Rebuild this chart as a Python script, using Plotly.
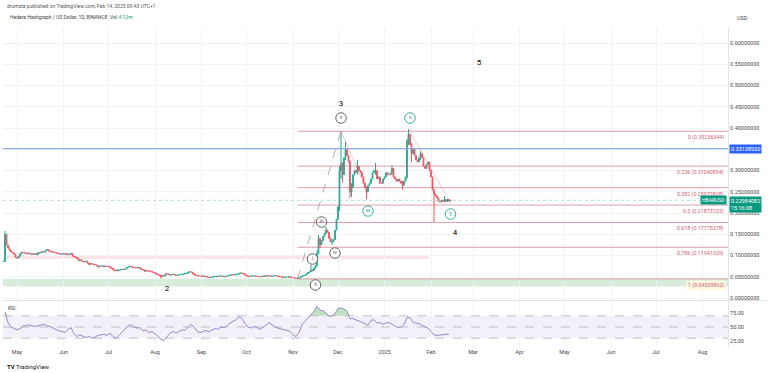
import numpy as np
import pandas as pd
import plotly.graph_objects as go

# ---------------- data ----------------
start_date = "2024-04-22"
end_date = "2025-02-14"

close_apr = [0.086, 0.150, 0.125, 0.118, 0.112, 0.108, 0.106, 0.103, 0.096]
close_may = [0.094, 0.098, 0.104, 0.108, 0.107, 0.106, 0.104, 0.106, 0.105, 0.103,
             0.104, 0.103, 0.104, 0.102, 0.107, 0.106, 0.108, 0.109, 0.108, 0.112,
             0.114, 0.111, 0.109, 0.109, 0.108, 0.107, 0.106, 0.105, 0.104, 0.103, 0.104]
close_jun = [0.104, 0.103, 0.104, 0.102, 0.103, 0.105, 0.099, 0.097, 0.096, 0.093,
             0.088, 0.090, 0.087, 0.085, 0.086, 0.087, 0.082, 0.079, 0.081, 0.080,
             0.079, 0.078, 0.076, 0.073, 0.075, 0.075, 0.076, 0.074, 0.074, 0.075]
close_jul = [0.074, 0.072, 0.070, 0.066, 0.064, 0.066, 0.064, 0.066, 0.067, 0.068,
             0.067, 0.068, 0.071, 0.073, 0.075, 0.074, 0.072, 0.071, 0.072, 0.071,
             0.072, 0.069, 0.067, 0.066, 0.063, 0.065, 0.064, 0.063, 0.063, 0.061, 0.060]
close_aug = [0.058, 0.056, 0.055, 0.053, 0.050, 0.053, 0.052, 0.057, 0.056, 0.056,
             0.054, 0.055, 0.056, 0.054, 0.053, 0.054, 0.055, 0.055, 0.056, 0.056,
             0.058, 0.058, 0.061, 0.062, 0.061, 0.058, 0.055, 0.053, 0.053, 0.052, 0.052]
close_sep = [0.051, 0.052, 0.051, 0.050, 0.049, 0.048, 0.049, 0.049, 0.051, 0.051,
             0.050, 0.051, 0.052, 0.052, 0.051, 0.050, 0.051, 0.052, 0.053, 0.054,
             0.055, 0.054, 0.055, 0.056, 0.056, 0.058, 0.059, 0.058, 0.057, 0.054]
close_oct = [0.052, 0.051, 0.051, 0.052, 0.052, 0.052, 0.051, 0.051, 0.050, 0.050,
             0.051, 0.052, 0.051, 0.053, 0.052, 0.052, 0.051, 0.052, 0.052, 0.053,
             0.052, 0.051, 0.050, 0.050, 0.048, 0.049, 0.049, 0.049, 0.050, 0.049, 0.048]
close_nov = [0.048, 0.047, 0.046, 0.0465, 0.047, 0.050, 0.052, 0.053, 0.054, 0.057,
             0.060, 0.062, 0.066, 0.064, 0.070, 0.076, 0.105, 0.140, 0.125, 0.135,
             0.145, 0.152, 0.160, 0.155, 0.140, 0.132, 0.133, 0.137, 0.160, 0.185]
close_dec = [0.215, 0.300, 0.315, 0.290, 0.330, 0.350, 0.335, 0.320, 0.250, 0.260,
             0.290, 0.300, 0.295, 0.310, 0.300, 0.295, 0.285, 0.270, 0.260, 0.250,
             0.265, 0.270, 0.280, 0.295, 0.300, 0.300, 0.280, 0.285, 0.270, 0.270, 0.280]
close_jan = [0.285, 0.295, 0.290, 0.290, 0.295, 0.305, 0.285, 0.280, 0.275, 0.280,
             0.275, 0.270, 0.265, 0.275, 0.285, 0.370, 0.385, 0.360, 0.340, 0.350,
             0.335, 0.325, 0.320, 0.330, 0.340, 0.330, 0.310, 0.305, 0.315, 0.320, 0.300]
close_feb = [0.285, 0.255, 0.245, 0.240, 0.235, 0.228, 0.226, 0.230, 0.228, 0.232,
             0.227, 0.232, 0.228, 0.22984082]

# notable wicks: date -> (high, low)
wicks = {
    "2024-04-23": (0.158, 0.085), "2024-08-05": (0.055, 0.046),
    "2024-11-04": (0.048, 0.04509862), "2024-11-13": (0.078, 0.062),
    "2024-11-17": (0.112, 0.075), "2024-11-18": (0.148, 0.103),
    "2024-11-19": (0.142, 0.118), "2024-11-23": (0.168, 0.150),
    "2024-11-27": (0.140, 0.125), "2024-12-02": (0.310, 0.205),
    "2024-12-03": (0.39236344, 0.280), "2024-12-04": (0.320, 0.272),
    "2024-12-06": (0.368, 0.325), "2024-12-09": (0.325, 0.235),
    "2024-12-10": (0.270, 0.238), "2024-12-14": (0.325, 0.290),
    "2024-12-20": (0.262, 0.232), "2024-12-26": (0.318, 0.290),
    "2025-01-06": (0.312, 0.290), "2025-01-13": (0.275, 0.255),
    "2025-01-16": (0.375, 0.280), "2025-01-17": (0.3975, 0.360),
    "2025-01-19": (0.365, 0.320), "2025-01-25": (0.345, 0.325),
    "2025-02-03": (0.255, 0.179), "2025-02-10": (0.240, 0.225),
}

# RSI(14) read every second day starting 2024-04-23
rsi_start = "2024-04-23"
rsi_vals = [77, 58, 50, 47, 45, 47, 52, 52, 54, 52, 51, 52, 53, 55, 52, 51, 48, 45, 43, 42,
            40, 46, 49, 38, 33, 36, 33, 31, 33, 30, 32, 35, 36, 37, 35, 39, 33, 30, 35, 41,
            46, 52, 54, 50, 48, 49, 43, 45, 40, 42, 38, 33, 28, 26, 33, 39, 42, 39, 42, 45,
            44, 50, 55, 50, 42, 40, 42, 44, 41, 45, 47, 46, 50, 49, 52, 57, 60, 63, 68, 65,
            56, 50, 48, 51, 49, 46, 50, 53, 58, 54, 50, 48, 46, 45, 44, 42, 36, 33, 40, 54,
            60, 66, 72, 78, 87, 80, 79, 75, 69, 70, 74, 83, 84, 82, 78, 65, 65, 63, 61, 59,
            56, 53, 62, 63, 57, 58, 55, 57, 58, 55, 52, 49, 50, 54, 67, 67, 58, 57, 56, 53,
            51, 48, 42, 36, 35, 36, 36, 37, 37]

# fibonacci retracement anchors
fib_high = 0.39236344
fib_low = 0.04509862
fib_start = "2024-11-04"
fib_ratios = [0, 0.236, 0.382, 0.5, 0.618, 0.786, 1]
fib_names = ["0", "0.236", "0.382", "0.5", "0.618", "0.786", "1"]

blue_level = 0.35138930
last_price = 0.22984082
green_zone = (0.027, 0.04509862)
pink_zone = (0.092, 0.099)
pink_zone_end = "2025-01-31"

wave_text = ["5", "3", "4", "2"]
wave_dates = ["2025-03-05", "2024-12-03", "2025-02-17", "2024-08-09"]
wave_prices = [0.553, 0.456, 0.153, 0.021]

circ_text = ["v", "x", "w", "y", "iii", "iv", "i", "ii"]
circ_dates = ["2024-12-03", "2025-01-18", "2024-12-21", "2025-02-14",
              "2024-11-20", "2024-11-29", "2024-11-14", "2024-11-16"]
circ_prices = [0.4235, 0.4235, 0.2047, 0.1976, 0.1788, 0.1059, 0.0918, 0.0306]
circ_green = [False, True, True, True, False, False, False, False]

price_ticks = [0.0, 0.05, 0.10, 0.15, 0.20, 0.25, 0.30, 0.35, 0.40, 0.45, 0.50, 0.55, 0.60]
rsi_ticks = [25, 50, 75]
month_ticks = ["2024-05-01", "2024-06-01", "2024-07-01", "2024-08-01", "2024-09-01",
               "2024-10-01", "2024-11-01", "2024-12-01", "2025-01-01", "2025-02-01",
               "2025-03-01", "2025-04-01", "2025-05-01", "2025-06-01", "2025-07-01",
               "2025-08-01"]
month_labels = ["May", "Jun", "Jul", "Aug", "Sep", "Oct", "Nov", "Dec", "2025", "Feb",
                "Mar", "Apr", "May", "Jun", "Jul", "Aug"]

x_range = ["2024-04-21 16:00", "2025-08-18 00:00"]

# ---------------- build series ----------------
closes = (close_apr + close_may + close_jun + close_jul + close_aug + close_sep +
          close_oct + close_nov + close_dec + close_jan + close_feb)
dates = pd.date_range(start_date, end_date, freq="D")
opens = [closes[0]] + closes[:-1]
highs, lows = [], []
for d, o, c in zip(dates, opens, closes):
    k = d.strftime("%Y-%m-%d")
    hi, lo = max(o, c), min(o, c)
    if k in wicks:
        hi = max(hi, wicks[k][0])
        lo = min(lo, wicks[k][1])
    highs.append(hi)
    lows.append(lo)

rsi_dates = pd.date_range(rsi_start, periods=len(rsi_vals), freq="2D")

GREEN = "#22ab94"
RED = "#f7525f"
FONT = "Roboto"
TXT = "#4a4a4a"

fig = go.Figure()

fig.add_trace(go.Candlestick(
    x=dates, open=opens, high=highs, low=lows, close=closes,
    increasing=dict(line=dict(color=GREEN, width=1), fillcolor=GREEN),
    decreasing=dict(line=dict(color=RED, width=1), fillcolor=RED),
    whiskerwidth=0, xaxis="x", yaxis="y", showlegend=False, hoverinfo="skip"))

# dashed impulse line
fig.add_trace(go.Scatter(x=[fib_start, "2024-12-03"], y=[fib_low, fib_high], mode="lines",
                         line=dict(color="#9a9a9a", width=0.8, dash="dash"),
                         xaxis="x", yaxis="y", showlegend=False, hoverinfo="skip"))
# faint connector lines
fig.add_trace(go.Scatter(x=["2024-12-03", "2024-12-21"], y=[fib_high, 0.247], mode="lines",
                         line=dict(color="rgba(242,54,69,0.35)", width=0.8),
                         xaxis="x", yaxis="y", showlegend=False, hoverinfo="skip"))
fig.add_trace(go.Scatter(x=["2025-01-17", "2025-02-14"], y=[0.3975, 0.2235], mode="lines",
                         line=dict(color="rgba(242,54,69,0.35)", width=0.8),
                         xaxis="x", yaxis="y", showlegend=False, hoverinfo="skip"))

# circled wave labels
for green in (False, True):
    idx = [i for i, g in enumerate(circ_green) if g == green]
    col = GREEN if green else "#555555"
    fig.add_trace(go.Scatter(
        x=[circ_dates[i] for i in idx], y=[circ_prices[i] for i in idx],
        text=[circ_text[i] for i in idx], mode="markers+text", textposition="middle center",
        marker=dict(size=10.5, color="white", line=dict(color=col, width=0.9)),
        textfont=dict(size=5.5, color=col, family=FONT),
        xaxis="x", yaxis="y", showlegend=False, hoverinfo="skip"))

# plain wave labels
fig.add_trace(go.Scatter(x=wave_dates, y=wave_prices, text=wave_text, mode="text",
                         textfont=dict(size=8, color="#000000", family=FONT),
                         xaxis="x", yaxis="y", showlegend=False, hoverinfo="skip"))

# RSI
rsi_arr = np.array(rsi_vals, dtype=float)
fig.add_trace(go.Scatter(x=rsi_dates, y=[70] * len(rsi_vals), mode="lines",
                         line=dict(width=0, color="rgba(0,0,0,0)"),
                         xaxis="x2", yaxis="y2", showlegend=False, hoverinfo="skip"))
fig.add_trace(go.Scatter(x=rsi_dates, y=np.maximum(rsi_arr, 70), mode="lines", fill="tonexty",
                         fillcolor="rgba(76,175,80,0.35)", line=dict(width=0, color="rgba(0,0,0,0)"),
                         xaxis="x2", yaxis="y2", showlegend=False, hoverinfo="skip"))
fig.add_trace(go.Scatter(x=rsi_dates, y=rsi_arr, mode="lines",
                         line=dict(color="#8c7bc4", width=0.9),
                         xaxis="x2", yaxis="y2", showlegend=False, hoverinfo="skip"))

shapes = []
# zones
shapes.append(dict(type="rect", xref="paper", yref="y", x0=0, x1=1,
                   y0=green_zone[0], y1=green_zone[1], fillcolor="rgba(76,175,80,0.22)",
                   line=dict(width=0), layer="below"))
shapes.append(dict(type="rect", xref="x", yref="y", x0=x_range[0], x1=pink_zone_end,
                   y0=pink_zone[0], y1=pink_zone[1], fillcolor="rgba(242,54,69,0.13)",
                   line=dict(width=0), layer="below"))
# blue level
shapes.append(dict(type="line", xref="paper", yref="y", x0=0, x1=1, y0=blue_level, y1=blue_level,
                   line=dict(color="#8fb1d9", width=1.2)))
# last price dotted
shapes.append(dict(type="line", xref="paper", yref="y", x0=0, x1=1, y0=last_price, y1=last_price,
                   line=dict(color="rgba(8,153,129,0.45)", width=0.7, dash="dot")))
# fib lines
fib_levels = [fib_high - r * (fib_high - fib_low) for r in fib_ratios]
for lv in fib_levels:
    shapes.append(dict(type="line", xref="x", yref="y", x0=fib_start, x1=x_range[1], y0=lv, y1=lv,
                       line=dict(color="rgba(200,90,105,0.65)", width=0.9)))
# RSI band & lines
shapes.append(dict(type="rect", xref="paper", yref="y2", x0=0, x1=1, y0=30, y1=70,
                   fillcolor="rgba(126,87,194,0.09)", line=dict(width=0), layer="below"))
for lv in (70, 50, 30):
    shapes.append(dict(type="line", xref="paper", yref="y2", x0=0, x1=1, y0=lv, y1=lv,
                       line=dict(color="#a7a9b3", width=0.7, dash="dash")))
# pane separator
shapes.append(dict(type="line", xref="paper", yref="paper", x0=0, x1=1.055, y0=0.1458, y1=0.1458,
                   line=dict(color="#e0e3eb", width=1)))

annotations = []
for name, lv in zip(fib_names, fib_levels):
    annotations.append(dict(
        xref="paper", yref="y", x=1, y=lv, xanchor="right", yanchor="top", xshift=-2, yshift=-1,
        text=f"{name} ({lv:.8f})", showarrow=False,
        font=dict(size=5.3, color="#d0606f", family=FONT),
        bgcolor="rgba(255,248,225,0.9)" if name == "1" else None))

# axis price boxes
annotations.append(dict(xref="paper", yref="y", x=1, y=blue_level, xanchor="left", xshift=1,
                        text="0.35138930", showarrow=False, bgcolor="#2962ff", borderpad=1,
                        font=dict(size=5.5, color="white", family=FONT)))
annotations.append(dict(xref="paper", yref="y", x=1, y=last_price, xanchor="left", yanchor="top",
                        xshift=1, yshift=4, text="0.22984082<br>15:16:08", showarrow=False,
                        bgcolor="#089981", borderpad=1, align="left",
                        font=dict(size=5.5, color="white", family=FONT)))
annotations.append(dict(xref="paper", yref="y", x=1, y=last_price, xanchor="right",
                        xshift=-1, text="HBARUSD", showarrow=False, bgcolor="#089981", borderpad=1,
                        font=dict(size=5, color="white", family=FONT)))

# header texts
annotations.append(dict(xref="paper", yref="paper", x=0, y=1, xanchor="left", yanchor="middle",
                        xshift=2, yshift=22, showarrow=False,
                        text="drumsta published on TradingView.com, Feb 14, 2025 09:43 UTC+1",
                        font=dict(size=5, color="#555555", family=FONT)))
annotations.append(dict(xref="paper", yref="paper", x=0, y=1, xanchor="left", yanchor="middle",
                        xshift=5, yshift=11, showarrow=False,
                        text="Hedera Hashgraph / US Dollar, 1D, BINANCE  Vol <span style='color:#089981'>4.12m</span>",
                        font=dict(size=5, color="#444444", family=FONT)))
annotations.append(dict(xref="paper", yref="paper", x=1, y=1, xanchor="left", yanchor="middle",
                        xshift=7, yshift=10, showarrow=False, text="USD",
                        font=dict(size=5.5, color="#444444", family=FONT)))
annotations.append(dict(xref="paper", yref="paper", x=0, y=0.1442, xanchor="left", yanchor="top",
                        xshift=3, yshift=-2, showarrow=False, text="RSI",
                        font=dict(size=5, color="#444444", family=FONT)))
annotations.append(dict(xref="paper", yref="paper", x=0, y=0, xanchor="left", yanchor="middle",
                        xshift=2, yshift=-19, showarrow=False,
                        text="<b>TV</b> TradingView",
                        font=dict(size=6, color="#131722", family=FONT)))

price_text = [f"{v:.8f}" for v in price_ticks]
rsi_text = [f"{v:.2f}" for v in rsi_ticks]

fig.update_layout(
    width=768, height=373,
    margin=dict(l=3, r=40, t=28, b=26),
    paper_bgcolor="white", plot_bgcolor="white",
    font=dict(family=FONT, size=5.5, color=TXT),
    showlegend=False,
    shapes=shapes, annotations=annotations,
    xaxis=dict(domain=[0, 1], anchor="y", range=x_range, type="date",
               showticklabels=False, showgrid=True, gridcolor="#f2f3f7", gridwidth=1,
               tickvals=month_ticks, zeroline=False, rangeslider=dict(visible=False),
               showline=False),
    xaxis2=dict(domain=[0, 1], anchor="y2", matches="x", range=x_range, type="date",
                tickvals=month_ticks, ticktext=month_labels, showgrid=True,
                gridcolor="#f2f3f7", ticks="", tickfont=dict(size=5.5, color=TXT),
                zeroline=False, showline=False),
    yaxis=dict(domain=[0.1473, 1], anchor="x", side="right", range=[-0.0047, 0.6353],
               tickvals=price_ticks, ticktext=price_text, showgrid=True, gridcolor="#f2f3f7",
               zeroline=False, ticks="", tickfont=dict(size=5.5, color=TXT),
               showline=True, linecolor="#e0e3eb", linewidth=1),
    yaxis2=dict(domain=[0, 0.1442], anchor="x2", side="right", range=[14.3, 96.4],
                tickvals=rsi_ticks, ticktext=rsi_text, showgrid=False, zeroline=False,
                ticks="", tickfont=dict(size=5.5, color=TXT),
                showline=True, linecolor="#e0e3eb", linewidth=1),
)

fig.write_html("out.html", config={"displayModeBar": False},
               post_script="document.body.style.margin='0px';")
